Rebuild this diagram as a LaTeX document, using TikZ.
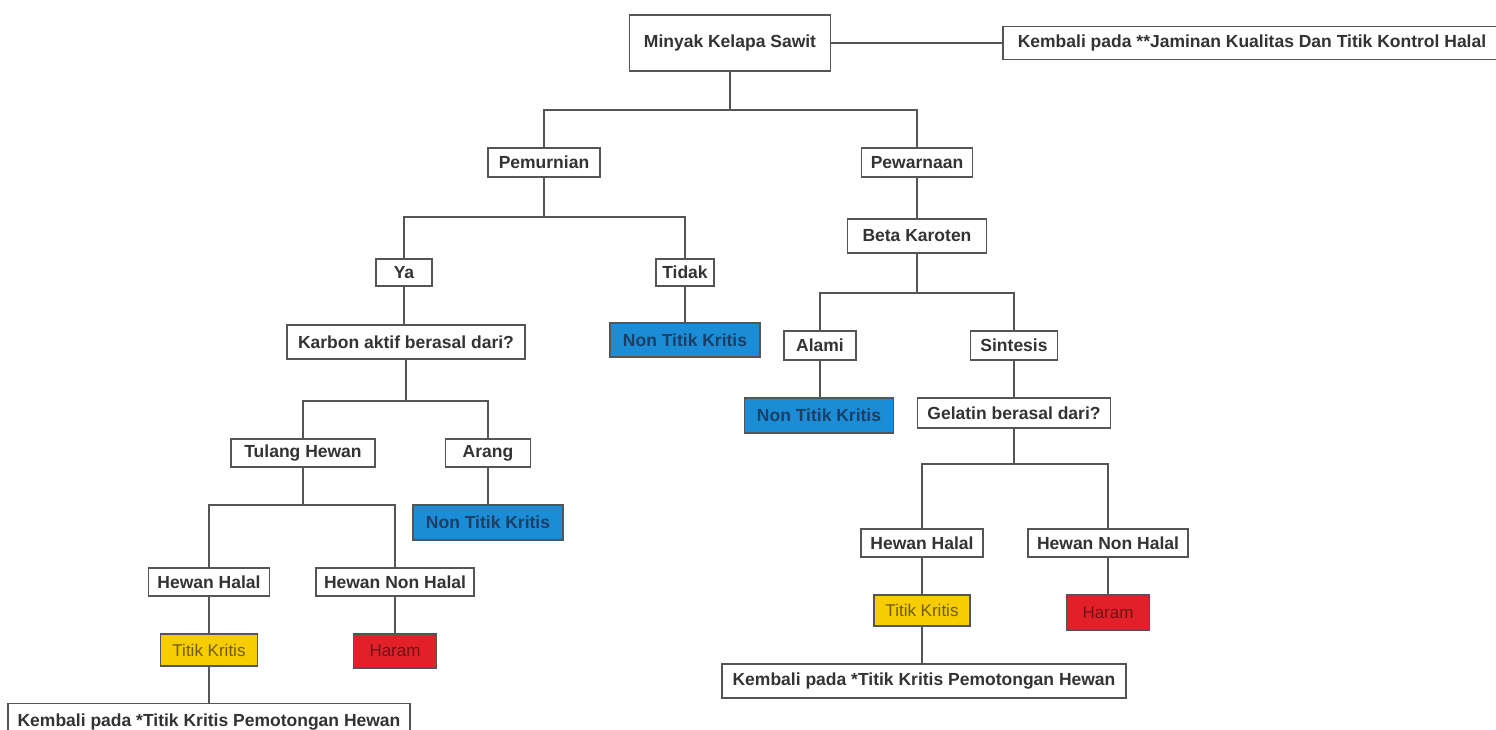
\documentclass[tikz,border=0pt]{standalone}
\usepackage{fontspec}
\setmainfont{Liberation Sans}
\definecolor{edgegray}{HTML}{555555}
\definecolor{txtgray}{HTML}{333333}
\definecolor{ntkblue}{HTML}{1B8CD6}
\definecolor{ntktext}{HTML}{1C3F66}
\definecolor{tkyellow}{HTML}{F7CD00}
\definecolor{tktext}{HTML}{6E5C00}
\definecolor{hrred}{HTML}{E2202A}
\definecolor{hrtext}{HTML}{701414}
\begin{document}
\begin{tikzpicture}[x=1pt,y=-1pt,
  box/.style={draw=edgegray,line width=1.4pt,fill=white,inner sep=0pt,
    font=\fontsize{17.5}{20}\selectfont\bfseries,text=txtgray,
    minimum width=#1},
  nonkritis/.style={box=150pt,fill=ntkblue,text=ntktext,minimum height=34pt},
  kritis/.style={box=97pt,fill=tkyellow,text=tktext,minimum height=32pt,
    font=\fontsize{17}{20}\selectfont},
  haram/.style={box=83pt,fill=hrred,text=hrtext,minimum height=34pt,
    font=\fontsize{17}{20}\selectfont},
  link/.style={draw=edgegray,line width=1.4pt}]
\useasboundingbox (0,0) rectangle (1496,729);
\begin{scope}
\clip (0,0) rectangle (1496,729);

% root and the note beside it
\node[box=201pt,minimum height=56pt] (root) at (730,43) {Minyak Kelapa Sawit};
\node[box=498pt,minimum height=33pt] (jaminan) at (1252,43)
  {Kembali pada **Jaminan Kualitas Dan Titik Kontrol Halal};

% first level
\node[box=112pt,minimum height=29pt] (pemurnian) at (544,162.5) {Pemurnian};
\node[box=111pt,minimum height=29pt] (pewarnaan) at (917,162.5) {Pewarnaan};

% refining branch
\node[box=56pt,minimum height=27pt] (ya) at (404,272.5) {Ya};
\node[box=58pt,minimum height=27pt] (tidak) at (685,272.5) {Tidak};
\node[nonkritis] (ntkA) at (685,340) {Non Titik Kritis};
\node[box=238pt,minimum height=34pt] (karbon) at (406,342) {Karbon aktif berasal dari?};
\node[box=144pt,minimum height=28pt] (tulang) at (303,453) {Tulang Hewan};
\node[box=85pt,minimum height=28pt] (arang) at (488,453) {Arang};
\node[nonkritis,minimum height=35pt] (ntkB) at (488,522.5) {Non Titik Kritis};
\node[box=121pt,minimum height=28pt] (halalA) at (209,582) {Hewan Halal};
\node[box=158pt,minimum height=28pt] (nonhalalA) at (395,582) {Hewan Non Halal};
\node[kritis] (tkA) at (209,650) {Titik Kritis};
\node[haram] (haramA) at (395,651) {Haram};
\node[box=402pt,minimum height=37pt,anchor=north] (backA) at (209,703)
  {Kembali pada *Titik Kritis Pemotongan Hewan};

% colouring branch
\node[box=139pt,minimum height=34pt] (beta) at (917,236) {Beta Karoten};
\node[box=72pt,minimum height=29pt] (alami) at (820,345.5) {Alami};
\node[box=87pt,minimum height=29pt] (sintesis) at (1014,345.5) {Sintesis};
\node[nonkritis,minimum width=149pt,minimum height=35pt] (ntkC) at (819,415.5) {Non Titik Kritis};
\node[box=193pt,minimum height=30pt] (gelatin) at (1014,413) {Gelatin berasal dari?};
\node[box=122pt,minimum height=28pt] (halalB) at (922,543) {Hewan Halal};
\node[box=160pt,minimum height=28pt] (nonhalalB) at (1108,543) {Hewan Non Halal};
\node[kritis,minimum width=96pt,minimum height=31pt] (tkB) at (922,610.5) {Titik Kritis};
\node[haram,minimum height=35pt] (haramB) at (1108,612.5) {Haram};
\node[box=404pt,minimum height=34pt] (backB) at (924,681)
  {Kembali pada *Titik Kritis Pemotongan Hewan};

% connectors
\path[link] (root.east) -- (jaminan.west);
\coordinate (j0) at (730,110);
\path[link] (root.south) -- (j0);
\path[link] (j0) -| (pemurnian.north);
\path[link] (j0) -| (pewarnaan.north);

\coordinate (j1) at (544,217);
\path[link] (pemurnian.south) -- (j1);
\path[link] (j1) -| (ya.north);
\path[link] (j1) -| (tidak.north);
\path[link] (tidak.south) -- (ntkA.north);
\path[link] (ya.south) -- (ya.south |- karbon.north);

\coordinate (j2) at (406,401);
\path[link] (karbon.south) -- (j2);
\path[link] (j2) -| (tulang.north);
\path[link] (j2) -| (arang.north);
\path[link] (arang.south) -- (arang.south |- ntkB.north);

\coordinate (j3) at (303,505);
\path[link] (tulang.south) -- (j3);
\path[link] (j3) -| (halalA.north);
\path[link] (j3) -| (nonhalalA.north);
\path[link] (halalA.south) -- (tkA.north);
\path[link] (nonhalalA.south) -- (nonhalalA.south |- haramA.north);
\path[link] (tkA.south) -- (tkA.south |- backA.north);

\path[link] (pewarnaan.south) -- (pewarnaan.south |- beta.north);
\coordinate (j4) at (917,293);
\path[link] (beta.south) -- (j4);
\path[link] (j4) -| (alami.north);
\path[link] (j4) -| (sintesis.north);
\path[link] (alami.south) -- (alami.south |- ntkC.north);
\path[link] (sintesis.south) -- (sintesis.south |- gelatin.north);

\coordinate (j5) at (1014,464);
\path[link] (gelatin.south) -- (j5);
\path[link] (j5) -| (halalB.north);
\path[link] (j5) -| (nonhalalB.north);
\path[link] (halalB.south) -- (tkB.north);
\path[link] (nonhalalB.south) -- (nonhalalB.south |- haramB.north);
\path[link] (tkB.south) -- (tkB.south |- backB.north);
\end{scope}
\end{tikzpicture}
\end{document}
